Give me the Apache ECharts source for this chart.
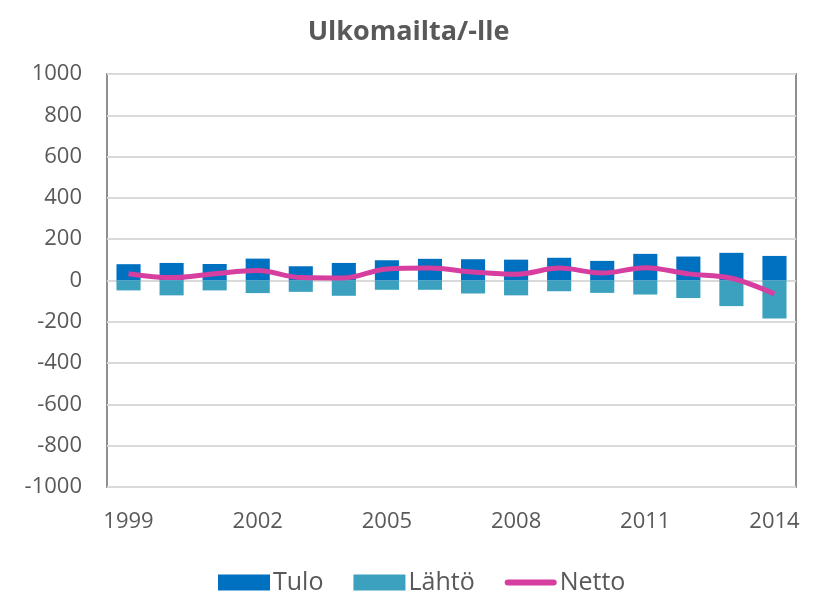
<!DOCTYPE html>
<html>
<head>
<meta charset="utf-8">
<script src="https://cdn.jsdelivr.net/npm/echarts@6/dist/echarts.min.js"></script>
<style>
  html, body { margin: 0; padding: 0; background: #fff; }
  #chart { width: 817px; height: 591px; }
</style>
</head>
<body>
<div id="chart"></div>
<script>
// vuodet
var years = ['1999', '2000', '2001', '2002', '2003', '2004', '2005', '2006',
  '2007', '2008', '2009', '2010', '2011', '2012', '2013', '2014'];
// tulo / lähtö / netto (luettu kuvasta)
var tulo = [79, 85, 80, 106, 69, 85, 98, 105, 103, 101, 110, 95, 129, 116, 134, 119];
var lahto = [-48, -72, -48, -61, -55, -74, -45, -45, -63, -72, -52, -60, -68, -85, -124, -184];
var netto = [33, 14, 33, 48, 14, 12, 56, 60, 41, 30, 60, 36, 62, 32, 11, -65];

var txt = '#595959';
var myChart = echarts.init(document.getElementById('chart'));
myChart.setOption({
  animation: false,
  title: {
    text: 'Ulkomailta/-lle',
    left: 'center',
    top: 14,
    textStyle: { fontFamily: 'Open Sans', fontSize: 27, fontWeight: 'bold', color: txt }
  },
  legend: {
    top: 565,
    left: 213,
    itemWidth: 52,
    itemHeight: 16,
    itemGap: 30,
    textStyle: { fontFamily: 'Open Sans', fontSize: 25, color: txt, padding: [0, 0, 0, -2] },
    data: [
      { name: 'Tulo', icon: 'rect' },
      { name: 'Lähtö', icon: 'rect' },
      { name: 'Netto', icon: 'path://M3,0 L49,0 A3,3 0 0 1 49,6 L3,6 A3,3 0 0 1 3,0 Z', itemStyle: { color: '#d63fa0' } }
    ]
  },
  grid: {
    left: 107,
    right: 21,
    top: 74,
    bottom: 104,
    show: true,
    borderColor: '#8f8f8f',
    borderWidth: 2
  },
  xAxis: {
    type: 'category',
    data: years,
    axisTick: { show: false },
    axisLine: { show: false },
    axisLabel: {
      interval: 2,
      margin: 24,
      fontFamily: 'Open Sans',
      fontSize: 22,
      color: txt
    }
  },
  yAxis: {
    type: 'value',
    min: -1000,
    max: 1000,
    interval: 200,
    axisLine: { show: false },
    axisTick: { show: false },
    splitLine: { lineStyle: { color: '#d9d9d9', width: 2 } },
    axisLabel: {
      margin: 25,
      fontFamily: 'Open Sans',
      fontSize: 22,
      color: txt,
      formatter: function (v) { return String(v); }
    }
  },
  series: [
    {
      name: 'Tulo',
      type: 'bar',
      stack: 'a',
      barWidth: '56%',
      itemStyle: { color: '#0070c0' },
      data: tulo
    },
    {
      name: 'Lähtö',
      type: 'bar',
      stack: 'a',
      itemStyle: { color: '#3ca1bf' },
      data: lahto
    },
    {
      name: 'Netto',
      type: 'line',
      smooth: 0.35,
      symbol: 'none',
      lineStyle: { color: '#d63fa0', width: 5 },
      itemStyle: { color: '#d63fa0' },
      data: netto
    }
  ]
});
</script>
</body>
</html>
